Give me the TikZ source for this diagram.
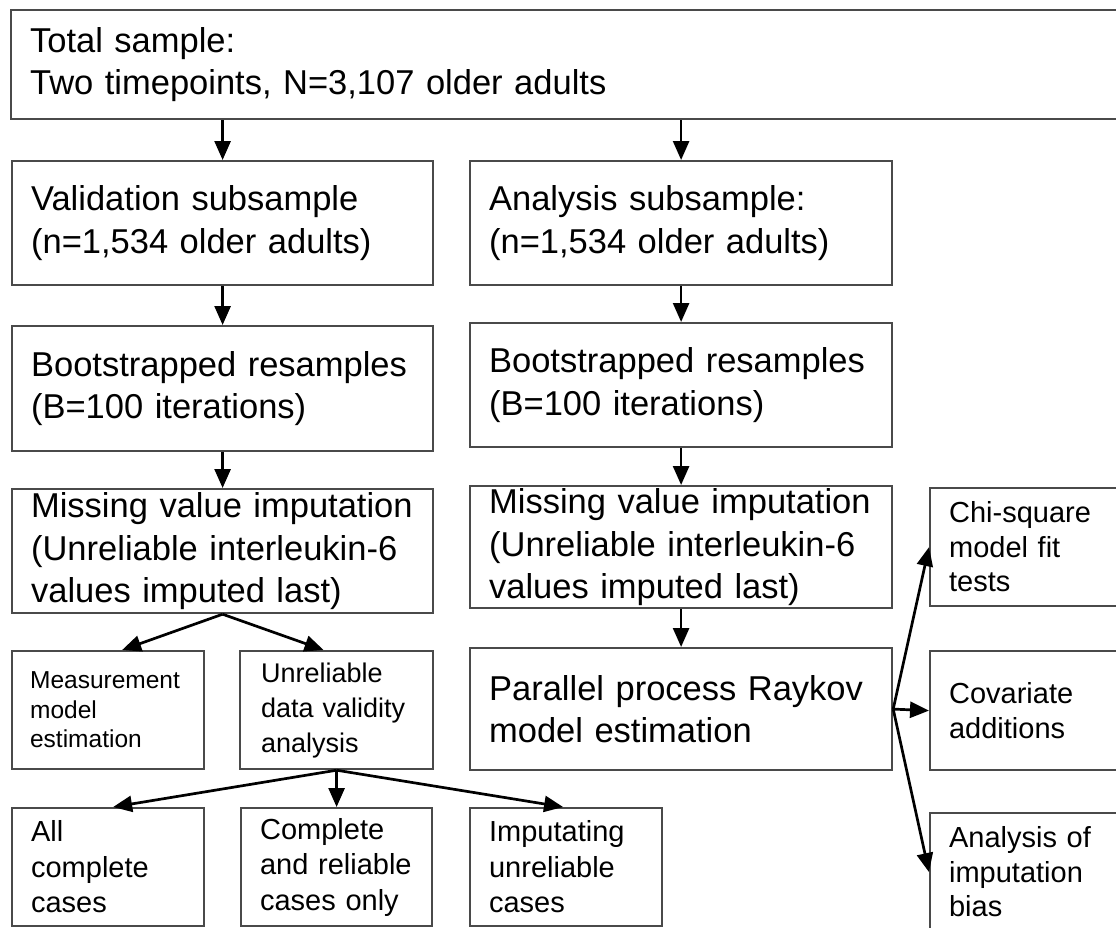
\documentclass[tikz,border=0pt]{standalone}
\usepackage{fontspec}
\setmainfont{Liberation Sans}
\usetikzlibrary{arrows.meta}
\definecolor{boxgray}{HTML}{4A4A4A}
\begin{document}
\begin{tikzpicture}[x=1pt,y=-1pt,
  box/.style={draw=boxgray, line width=2.2pt, rectangle, anchor=north west,
    align=left, inner ysep=0pt, inner xsep=19pt},
  bigtxt/.style={font=\fontsize{34.5}{42.5}\selectfont},
  meastxt/.style={font=\fontsize{24.5}{29.5}\selectfont},
  unreltxt/.style={font=\fontsize{27}{35}\selectfont},
  smalltxt/.style={font=\fontsize{29}{35.5}\selectfont},
  sidetxt/.style={font=\fontsize{29}{34.5}\selectfont},
  arr/.style={draw=black, line width=2.7pt, -{Triangle[length=19pt,width=16pt]}},
]
\clip (0,0) rectangle (1116,927);
\fill[white] (0,0) rectangle (1116,927);

% top box
\node[box, bigtxt, minimum width=1120pt, minimum height=109pt, text width=1082pt] (top) at (10,9)
  {Total sample:\\Two timepoints, N=3,107 older adults};

% left column
\node[box, bigtxt, minimum width=421pt, minimum height=124pt, text width=383pt] (val) at (11,160)
  {Validation subsample\\(n=1,534 older adults)};
\node[box, bigtxt, minimum width=421pt, minimum height=125pt, text width=383pt] (bootL) at (11,325)
  {Bootstrapped resamples\\(B=100 iterations)};
\node[box, bigtxt, minimum width=421pt, minimum height=124pt, text width=383pt] (missL) at (11,488)
  {Missing value imputation\\(Unreliable interleukin-6\\values imputed last)};

% right column
\node[box, bigtxt, minimum width=422pt, minimum height=124pt, text width=384pt] (ana) at (469,160)
  {Analysis subsample:\\(n=1,534 older adults)};
\node[box, bigtxt, minimum width=422pt, minimum height=124pt, text width=384pt] (bootR) at (469,322)
  {Bootstrapped resamples\\(B=100 iterations)};
\node[box, bigtxt, minimum width=422pt, minimum height=122pt, text width=384pt] (missR) at (469,485)
  {Missing value imputation\\(Unreliable interleukin-6\\values imputed last)};
\node[box, bigtxt, minimum width=422pt, minimum height=122pt, text width=384pt] (par) at (469,647)
  {Parallel process Raykov\\model estimation};

% second-level left boxes
\node[box, meastxt, inner xsep=18pt, minimum width=192pt, minimum height=118pt, text width=156pt] (meas) at (11,650)
  {Measurement\\model\\estimation};
\node[box, unreltxt, inner xsep=21pt, minimum width=193pt, minimum height=118pt, text width=151pt] (unrel) at (239,650)
  {Unreliable\\data validity\\analysis};

% bottom row
\node[box, smalltxt, minimum width=192pt, minimum height=118pt, text width=154pt] (all) at (11,807)
  {All\\complete\\cases};
\node[box, smalltxt, minimum width=191pt, minimum height=118pt, text width=153pt] (comp) at (240,807)
  {Complete\\and reliable\\cases only};
\node[box, smalltxt, minimum width=192pt, minimum height=118pt, text width=154pt] (imp) at (469,807)
  {Imputating\\unreliable\\cases};

% right side boxes
\node[box, sidetxt, minimum width=201pt, minimum height=118pt, text width=163pt] (chi) at (929,487)
  {Chi-square\\model fit\\tests};
\node[box, sidetxt, minimum width=201pt, minimum height=119pt, text width=163pt] (cov) at (929,650)
  {Covariate\\additions};
\node[box, sidetxt, minimum width=201pt, minimum height=118pt, text width=163pt] (anb) at (929,812)
  {Analysis of\\imputation\\bias};

% connectors
\draw[arr] (val.north |- top.south) -- (val.north);
\draw[arr] (ana.north |- top.south) -- (ana.north);
\draw[arr] (val.south) -- (bootL.north);
\draw[arr] (bootL.south) -- (missL.north);
\draw[arr] (ana.south) -- (bootR.north);
\draw[arr] (bootR.south) -- (missR.north);
\draw[arr] (missR.south) -- (par.north);
\draw[arr] (missL.south) -- ([xshift=14pt]meas.north);
\draw[arr] (missL.south) -- ([xshift=-13pt]unrel.north);
\draw[arr] (unrel.south) -- ([xshift=5pt]all.north);
\draw[arr] (unrel.south) -- (comp.north);
\draw[arr] (unrel.south) -- ([xshift=-3pt]imp.north);
\draw[arr] (par.east) -- (chi.west);
\draw[arr] (par.east) -- (cov.west);
\draw[arr] (par.east) -- (anb.west);
\end{tikzpicture}
\end{document}
